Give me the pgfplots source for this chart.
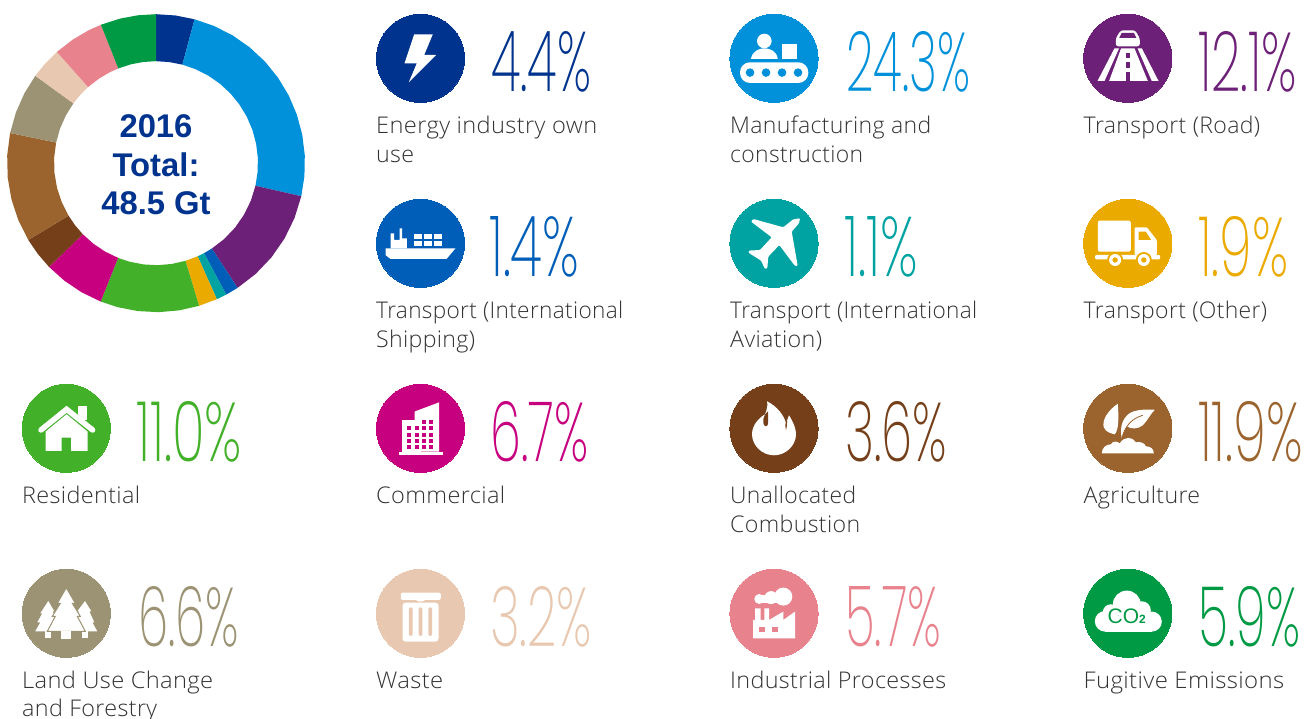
\documentclass[border=0pt]{standalone}
\usepackage{fontspec}
\usepackage{pgfplots}
\usepgfplotslibrary{polar}
\pgfplotsset{compat=1.18}
\setmainfont{Open Sans Light}[LetterSpace=1.5]
\newfontfamily\pct{Poppins ExtraLight}
\newfontfamily\boldf{Liberation Sans Bold}
\newfontfamily\plainf{Liberation Sans}
\definecolor{cEnergy}{HTML}{00338D}
\definecolor{cManu}{HTML}{0091DA}
\definecolor{cRoad}{HTML}{6D2077}
\definecolor{cShip}{HTML}{005EB8}
\definecolor{cAvia}{HTML}{00A3A1}
\definecolor{cOther}{HTML}{EAAA00}
\definecolor{cResi}{HTML}{43B02A}
\definecolor{cComm}{HTML}{C6007E}
\definecolor{cUnal}{HTML}{753F19}
\definecolor{cAgri}{HTML}{9B642E}
\definecolor{cLand}{HTML}{9C9374}
\definecolor{cWaste}{HTML}{E8C8B0}
\definecolor{cIndu}{HTML}{E8838E}
\definecolor{cFugi}{HTML}{009A44}
\definecolor{cText}{HTML}{333333}
\newcommand{\lab}[4]{\node[anchor=base west,inner sep=0pt,text=cText,font=\fontsize{23}{29}\selectfont] at (#1,#2) {\resizebox{#3pt}{\height}{#4}};}
\newcommand{\pc}[5]{\node[anchor=base west,inner sep=0pt,text=#4] at (#1,#2) {\resizebox{#3pt}{60pt}{\pct #5\%}};}
\newcommand{\cir}[3]{\addplot[only marks,color=#1,mark=*,mark size=44.1pt,mark options={draw=#1,fill=#1,line width=0pt}] coordinates {(#2,#3)};}
\begin{document}
\begin{tikzpicture}
\useasboundingbox (0,0) rectangle (1313pt,719pt);
\begin{polaraxis}[at={(7pt,406.8pt)},anchor=south west,hide axis,scale only axis,width=298pt,height=298pt,ymin=0,ymax=149,clip=false]
\addplot[draw=none,fill=cEnergy] coordinates {(90,149)(82.5,149)(75,149)(75,102)(82.5,102)(90,102)} --cycle;
\addplot[draw=none,fill=cManu] coordinates {(75,149)(67,149)(59,149)(51,149)(43,149)(35,149)(27,149)(19,149)(11,149)(3,149)(-5,149)(-12.8,149)(-12.8,102)(-5,102)(3,102)(11,102)(19,102)(27,102)(35,102)(43,102)(51,102)(59,102)(67,102)(75,102)} --cycle;
\addplot[draw=none,fill=cRoad] coordinates {(-12.8,149)(-21.6,149)(-30.4,149)(-39.2,149)(-48,149)(-56.8,149)(-56.8,102)(-48,102)(-39.2,102)(-30.4,102)(-21.6,102)(-12.8,102)} --cycle;
\addplot[draw=none,fill=cShip] coordinates {(-56.8,149)(-61.9,149)(-61.9,102)(-56.8,102)} --cycle;
\addplot[draw=none,fill=cAvia] coordinates {(-61.9,149)(-65.9,149)(-65.9,102)(-61.9,102)} --cycle;
\addplot[draw=none,fill=cOther] coordinates {(-65.9,149)(-73.2,149)(-73.2,102)(-65.9,102)} --cycle;
\addplot[draw=none,fill=cResi] coordinates {(-73.2,149)(-81,149)(-89,149)(-97,149)(-105,149)(-111.8,149)(-111.8,102)(-105,102)(-97,102)(-89,102)(-81,102)(-73.2,102)} --cycle;
\addplot[draw=none,fill=cComm] coordinates {(-111.8,149)(-120,149)(-128,149)(-135.9,149)(-135.9,102)(-128,102)(-120,102)(-111.8,102)} --cycle;
\addplot[draw=none,fill=cUnal] coordinates {(-135.9,149)(-142.5,149)(-149,149)(-149,102)(-142.5,102)(-135.9,102)} --cycle;
\addplot[draw=none,fill=cAgri] coordinates {(-149,149)(-157.5,149)(-166,149)(-174.5,149)(-183,149)(-191.7,149)(-191.7,102)(-183,102)(-174.5,102)(-166,102)(-157.5,102)(-149,102)} --cycle;
\addplot[draw=none,fill=cLand] coordinates {(-191.7,149)(-200,149)(-208,149)(-215.9,149)(-215.9,102)(-208,102)(-200,102)(-191.7,102)} --cycle;
\addplot[draw=none,fill=cWaste] coordinates {(-215.9,149)(-222,149)(-228.3,149)(-228.3,102)(-222,102)(-215.9,102)} --cycle;
\addplot[draw=none,fill=cIndu] coordinates {(-228.3,149)(-236,149)(-243,149)(-248.3,149)(-248.3,102)(-243,102)(-236,102)(-228.3,102)} --cycle;
\addplot[draw=none,fill=cFugi] coordinates {(-248.3,149)(-256,149)(-263,149)(-270,149)(-270,102)(-263,102)(-256,102)(-248.3,102)} --cycle;
\end{polaraxis}
\begin{axis}[at={(0pt,0pt)},anchor=south west,hide axis,scale only axis,width=1313pt,height=719pt,xmin=0,xmax=1313,ymin=0,ymax=719,y dir=reverse,clip=false]
\cir{cEnergy}{420.5}{58.3}
\cir{cManu}{774}{58.3}
\cir{cRoad}{1127.8}{58.3}
\cir{cShip}{420.5}{243.3}
\cir{cAvia}{774}{243.3}
\cir{cOther}{1127.8}{243.3}
\cir{cResi}{66.3}{428.3}
\cir{cComm}{420.5}{428.3}
\cir{cUnal}{774}{428.3}
\cir{cAgri}{1127.8}{428.3}
\cir{cLand}{66.3}{613.3}
\cir{cWaste}{420.5}{613.3}
\cir{cIndu}{774}{613.3}
\cir{cFugi}{1127.8}{613.3}
\end{axis}
\begin{scope}[x=1pt,y=-1pt,yshift=719pt]
% centre text
\node[anchor=base,inner sep=0pt,text=cEnergy,font=\boldf\fontsize{32.8}{35}\selectfont] at (156,137.5) {2016};
\node[anchor=base,inner sep=0pt,text=cEnergy,font=\boldf\fontsize{32.8}{35}\selectfont] at (156,176.3) {Total:};
\node[anchor=base,inner sep=0pt,text=cEnergy,font=\boldf\fontsize{32.8}{35}\selectfont] at (156,215) {48.5 Gt};
% percents
\pc{491}{91.7}{100}{cEnergy}{4.4}
\pc{846}{91.7}{124}{cManu}{24.3}
\pc{1198}{91.7}{99}{cRoad}{12.1}
\pc{489}{276.7}{90}{cShip}{1.4}
\pc{844}{276.7}{74}{cAvia}{1.1}
\pc{1198}{276.7}{90}{cOther}{1.9}
\pc{136}{461.7}{106}{cResi}{11.0}
\pc{490}{461.7}{98}{cComm}{6.7}
\pc{845}{461.7}{102}{cUnal}{3.6}
\pc{1198}{461.7}{105}{cAgri}{11.9}
\pc{138}{646.7}{101}{cLand}{6.6}
\pc{490}{646.7}{102}{cWaste}{3.2}
\pc{845}{646.7}{96}{cIndu}{5.7}
\pc{1198}{646.7}{102}{cFugi}{5.9}
% labels
\lab{376}{134}{221}{Energy industry own}
\lab{376}{163}{38}{use}
\lab{730}{134}{201}{Manufacturing and}
\lab{730}{163}{133}{construction}
\lab{1083.5}{134}{176.5}{Transport (Road)}
\lab{376}{319}{247}{Transport (International}
\lab{376}{348}{99}{Shipping)}
\lab{730}{319}{247}{Transport (International}
\lab{730}{348}{92}{Aviation)}
\lab{1083.5}{319}{183.5}{Transport (Other)}
\lab{22}{504}{118}{Residential}
\lab{376}{504}{129}{Commercial}
\lab{730}{504}{126}{Unallocated}
\lab{730}{533}{130}{Combustion}
\lab{1083.5}{504}{116.5}{Agriculture}
\lab{22}{689}{191}{Land Use Change}
\lab{22}{717}{135}{and Forestry}
\lab{376}{689}{67}{Waste}
\lab{730}{689}{216}{Industrial Processes}
\lab{1083.5}{689}{200.5}{Fugitive Emissions}
% --- icons
\begin{scope}[shift={(420.5,58.3)}]
\fill[white] (-6.3,-24)--(12.3,-24)--(3.7,-3.3)--(15.7,-3.3)--(-11.7,24)--(-3.7,5)--(-16,5)--cycle;
\end{scope}
\begin{scope}[shift={(774,58.3)}]
\fill[white] (-9.7,-17.3) circle (7.3);
\fill[white] (-23,0.7) .. controls (-22,-7) and (-15,-10) .. (-9.7,-10) .. controls (-4,-10) and (3,-7) .. (3.7,0.7) -- cycle;
\fill[white] (7.7,-14) rectangle (23,0.7);
\fill[white,rounded corners=10pt] (-34,4) rectangle (34.3,24.7);
\foreach \x in {-24,-8,8,24} \fill[cManu] (\x,14.3) circle (4.3);
\end{scope}
\begin{scope}[shift={(1127.8,58.3)}]
\fill[white,rounded corners=2.5pt] (-12,-12) -- (-12,-20) -- (-7,-28) -- (7.3,-28) -- (12,-20) -- (12,-12) -- cycle;
\fill[cRoad] (-6,-25.5)--(6,-25.5)--(8.5,-20.5)--(-8.5,-20.5)--cycle;
\fill[white] (-13.3,-10)--(-8.7,-10)--(-23.3,22.7)--(-30.3,22.7)--cycle;
\fill[white] (9.7,-10)--(14,-10)--(30.7,22.7)--(24,22.7)--cycle;
\fill[white] (-6.7,-10)--(6.7,-10)--(20,22.7)--(-18.7,22.7)--cycle;
\fill[cRoad] (-1.7,-5) rectangle (1.7,0);
\fill[cRoad] (-2,4) rectangle (2,10);
\fill[cRoad] (-2.3,14) rectangle (2.3,23);
\end{scope}
\begin{scope}[shift={(420.5,243.3)}]
\fill[white] (-35,5)--(35,5)--(26,15.7)--(-30,15.7)--(-35,11.7)--cycle;
\fill[white] (-30,-10)--(-26.3,-10)--(-26.3,-3.3)--(-21,-3.3)--(-21,-15)--(-18.3,-15)--(-18.3,-5)--(-13.7,-5)--(-13.7,5)--(-30,5)--cycle;
\foreach \x/\w in {-7/8.3,3/8.3,13.7/7.6} {\fill[white] (\x,-9) rectangle ++(\w,5); \fill[white] (\x,-2.7) rectangle ++(\w,5.4);}
\end{scope}
\begin{scope}[shift={(774,243.3)}]
\fill[white,rounded corners=1pt] (26,-25)--(25,-20)--(17.7,-11.7)--(23.7,22.7)--(21,22.7)--(5.3,1.7)--(-5.7,13.3)--(-6.7,25)--(-9,25.7)--(-13,17.3)--(-25.7,9.3)--(-25,7.3)--(-14,6.7)--(-2.3,-6)--(-23,-21.7)--(-20.7,-24.3)--(9.3,-16)--(19.3,-24)--cycle;
\end{scope}
\begin{scope}[shift={(1127.8,243.3)}]
\fill[white,rounded corners=1.5pt] (-30,-22.7) rectangle (3,8.3);
\fill[white,rounded corners=1pt] (6.7,-16)--(19,-16)--(29,-3.3)--(29,11.7)--(6.7,11.7)--cycle;
\fill[cOther] (10.7,-11.7)--(18,-11.7)--(23.3,-3.3)--(10.7,-3.3)--cycle;
\fill[white,rounded corners=1pt] (-32.7,11.7) rectangle (32.3,16);
\foreach \x in {-12.7,16} {\fill[cOther] (\x,16.7) circle (8); \fill[white] (\x,16.7) circle (6); \fill[cOther] (\x,16.7) circle (2.7);}
\end{scope}
\begin{scope}[shift={(66.3,428.3)}]
\fill[white] (11.3,-22.3) rectangle (20.3,-8);
\draw[white,line width=5.5pt,line cap=round,line join=miter] (-25.3,1.7)--(0.3,-19)--(26.3,1.7);
\fill[white] (-20.7,3.3)--(0.3,-14)--(21.3,3.3)--(21.3,22.7)--(4.7,22.7)--(4.7,9.3)--(-4.7,9.3)--(-4.7,22.7)--(-20.7,22.7)--cycle;
\end{scope}
\begin{scope}[shift={(420.5,428.3)}]
\fill[white] (-22,23.3) rectangle (22.3,26.7);
\fill[white] (-18.7,-8.3) rectangle (0,23.3);
\fill[white] (-6,-8)--(-6,-16.7)--(18.7,-26)--(18.7,23.3)--(-6,23.3)--cycle;
\foreach \x in {-12,-4,3.3,10.7} \foreach \y in {0,6.3,12.6,19} \fill[cComm] (\x-2,\y-2) rectangle ++(4,4);
\foreach \x in {3.3,10.7} \fill[cComm] (\x-2,-8.7) rectangle ++(4,4);
\end{scope}
\begin{scope}[shift={(774,428.3)}]
\fill[white] (0,27) .. controls (-12,27) and (-22,17) .. (-22,6) .. controls (-22,-4) and (-14,-11) .. (-9,-14) .. controls (-7,-19) and (-6,-23) .. (-7,-27) .. controls (3,-22) and (10,-13) .. (12,-5) .. controls (13,-8) and (14,-10) .. (15,-13) .. controls (20,-5) and (22,1) .. (22,6) .. controls (22,17) and (12,27) .. (0,27) -- cycle;
\fill[cUnal] (-9,-14) .. controls (-12,-8) and (-11,-2) .. (-8,-2) .. controls (-5,-2) and (-6,-8) .. (-6,-17) -- cycle;
\fill[cUnal] (12,-7) .. controls (11,-4) and (11,-1) .. (12,2) .. controls (13,-1) and (13,-4) .. (13,-8) -- cycle;
\end{scope}
\begin{scope}[shift={(1127.8,428.3)}]
\fill[white] (-26,25) .. controls (-26,20) and (-22,16) .. (-17,16) .. controls (-14,12) and (-11,13) .. (-8,15) .. controls (-4,8) and (5,8) .. (8,14) .. controls (13,13) and (17,15) .. (18,18) .. controls (22,18) and (26,20) .. (26,25) -- cycle;
\fill[white] (-6,10) .. controls (-9,-2) and (-4,-14) .. (6,-17) .. controls (13,-19) and (20,-19) .. (27,-18.5) .. controls (23,-15) and (20,-8) .. (15,-3) .. controls (10,1) and (3,1) .. (-1,-2) .. controls (-3,1) and (-5,6) .. (-6,10) -- cycle;
\fill[white] (-10,-24.5) .. controls (-20,-18) and (-26,-8) .. (-24,-1) .. controls (-22,4) and (-17,5) .. (-13,6) .. controls (-9,1) and (-9,-10) .. (-10,-24.5) -- cycle;
\draw[cAgri,line width=0.8pt] (-6,10) .. controls (-3,-2) and (4,-10) .. (15,-13);
\end{scope}
\begin{scope}[shift={(66.3,613.3)}]
\fill[white] (-18,-12.3)--(-12,-2)--(-14,-2)--(-8,6)--(-11,6)--(-5,18)--(-31,18)--(-26,9)--(-29,9)--(-24,0)--(-26,0)--cycle;
\fill[white] (-21,18) rectangle (-15,25);
\fill[white] (18.7,-12.3)--(25,-2)--(23,-2)--(28,9)--(26,9)--(31,18)--(5,18)--(10,6)--(7,6)--(13,-2)--(11,-2)--cycle;
\fill[white] (16,18) rectangle (22,25);
\fill[white,draw=cLand,line width=1pt] (0,-25.5)--(9,-10)--(6,-10)--(14,3)--(11,3)--(19,18)--(-19,18)--(-11,3)--(-14,3)--(-6,-10)--(-9,-10)--cycle;
\fill[white] (-5,18) rectangle (5,25.5);
\end{scope}
\begin{scope}[shift={(420.5,613.3)}]
\draw[white,line width=2.6pt] (-6,-19) arc (180:0:6);
\fill[white,rounded corners=2pt] (-19.7,-20.7) rectangle (20.3,-13.3);
\fill[white,rounded corners=3pt] (-18,-10.7) rectangle (18,28.3);
\foreach \x in {-9.7,0,9.7} \fill[cWaste,rounded corners=1.5pt] (\x-1.9,-6) rectangle (\x+1.9,22.7);
\end{scope}
\begin{scope}[shift={(774,613.3)}]
\fill[white] (-21,25)--(-21,6.7)--(-19,6.7)--(-19,-5)--(-13.3,-5)--(-13.3,6.7)--(-9.7,6.7)--(-9.7,-5)--(-5,-5)--(-5,6.7)--(9.3,-1.7)--(9.3,6.7)--(21,-1.7)--(21,25)--cycle;
\fill[cIndu] (-15,13.3) rectangle (-9,19);
\fill[cIndu] (-1.7,13.3) rectangle (4.3,19);
\fill[white] (9.3,-16.7) circle (9);
\fill[white] (-3,-15.7) circle (6.5);
\fill[white] (-14.7,-14.3) circle (5);
\fill[white] (-14,-18) rectangle (5,-10.5);
\end{scope}
\begin{scope}[shift={(1127.8,613.3)}]
\fill[white] (-1,-8.7) circle (14);
\fill[white] (-22.7,8) circle (10.3);
\fill[white] (24,8.3) circle (10);
\fill[white] (-17,-1) circle (8);
\fill[white] (14,-3) circle (9);
\fill[white] (-22.7,3) rectangle (24,18.3);
\node[anchor=base,inner sep=0pt,text=cFugi,font=\plainf\fontsize{21}{22}\selectfont] at (-1,10) {CO{\boldf\fontsize{12}{12}\selectfont 2}};
\end{scope}
\end{scope}
\end{tikzpicture}
\end{document}
